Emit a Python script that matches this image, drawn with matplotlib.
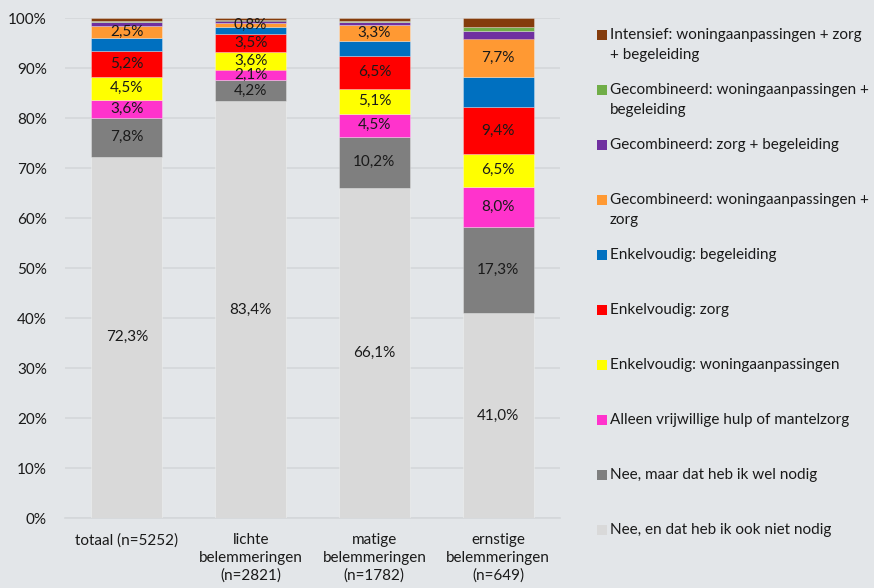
import matplotlib
matplotlib.use("Agg")
import matplotlib.pyplot as plt
from matplotlib.patches import Rectangle
import numpy as np

plt.rcParams['font.family'] = ['Lato', 'DejaVu Sans']

categories = ["totaal (n=5252)", "lichte\nbelemmeringen\n(n=2821)",
              "matige\nbelemmeringen\n(n=1782)", "ernstige\nbelemmeringen\n(n=649)"]

# bottom to top
series_names = [
    "Nee, en dat heb ik ook niet nodig",
    "Nee, maar dat heb ik wel nodig",
    "Alleen vrijwillige hulp of mantelzorg",
    "Enkelvoudig: woningaanpassingen",
    "Enkelvoudig: zorg",
    "Enkelvoudig: begeleiding",
    "Gecombineerd: woningaanpassingen +\nzorg",
    "Gecombineerd: zorg + begeleiding",
    "Gecombineerd: woningaanpassingen +\nbegeleiding",
    "Intensief: woningaanpassingen + zorg\n+ begeleiding",
]
colors = ["#D9D9D9", "#7F7F7F", "#FF33CC", "#FFFF00", "#FF0000",
          "#0070C0", "#FF9933", "#7030A0", "#70AD47", "#843C0C"]

nee_niet = [72.3, 83.4, 66.1, 41.0]
nee_wel = [7.8, 4.2, 10.2, 17.3]
alleen_vrijwillig = [3.6, 2.1, 4.5, 8.0]
enk_woning = [4.5, 3.6, 5.1, 6.5]
enk_zorg = [5.2, 3.5, 6.5, 9.4]
enk_begeleiding = [2.6, 1.5, 3.0, 6.0]
comb_woning_zorg = [2.5, 0.8, 3.3, 7.7]
comb_zorg_begel = [0.7, 0.4, 0.6, 1.5]
comb_woning_begel = [0.2, 0.1, 0.2, 0.7]
intensief = [0.6, 0.4, 0.5, 1.9]

values = [nee_niet, nee_wel, alleen_vrijwillig, enk_woning, enk_zorg,
          enk_begeleiding, comb_woning_zorg, comb_zorg_begel,
          comb_woning_begel, intensief]
labeled = [True, True, True, True, True, False, True, False, False, False]

bg = "#E3E6E9"
fig = plt.figure(figsize=(8.74, 5.88), dpi=100, facecolor=bg)
ax = fig.add_axes([65/874, 1-518/588, 495/874, 500/588], facecolor=bg)

x = np.arange(len(categories))
bottom = np.zeros(len(categories))
for vals, col, lab in zip(values, colors, labeled):
    v = np.array(vals)
    ax.bar(x, v, bottom=bottom, width=0.575, color=col, edgecolor=(1, 1, 1, 0.35),
           linewidth=0.6, zorder=3)
    if lab:
        for xi, vi, bi in zip(x, v, bottom):
            ax.text(xi, bi + vi/2, f"{vi:.1f}%".replace(".", ","), ha='center',
                    va='center', fontsize=11, color='#1a1a1a', zorder=4)
    bottom += v

ax.set_xlim(-0.5, 3.5)
ax.set_ylim(0, 100)
ax.set_yticks(np.arange(0, 101, 10))
ax.set_yticklabels([f"{t}%" for t in range(0, 101, 10)])
ax.yaxis.grid(True, color="#D4D7DA", linewidth=1.2, zorder=0)
ax.set_xticks(x)
ax.set_xticklabels(categories, linespacing=1.3)
for s in ax.spines.values():
    s.set_visible(False)
ax.spines['bottom'].set_visible(True)
ax.spines['bottom'].set_color("#D4D7DA")
ax.spines['bottom'].set_linewidth(1.2)
ax.tick_params(axis='both', length=0, labelsize=11, colors='#1a1a1a')
ax.tick_params(axis='y', pad=13)
ax.tick_params(axis='x', pad=11)

# legend (top to bottom)
for i, idx in enumerate(range(len(series_names)-1, -1, -1)):
    yc = 35 + 55*i
    fig.patches.append(Rectangle((597/874, 1-(yc+5)/588), 10/874, 10/588,
                                 transform=fig.transFigure, facecolor=colors[idx],
                                 edgecolor='none'))
    fig.text(610/874, 1-(yc-7)/588, series_names[idx], ha='left', va='top',
             fontsize=11, color='#1a1a1a', linespacing=1.55)

fig.savefig("out.png", dpi=100, facecolor=bg)
